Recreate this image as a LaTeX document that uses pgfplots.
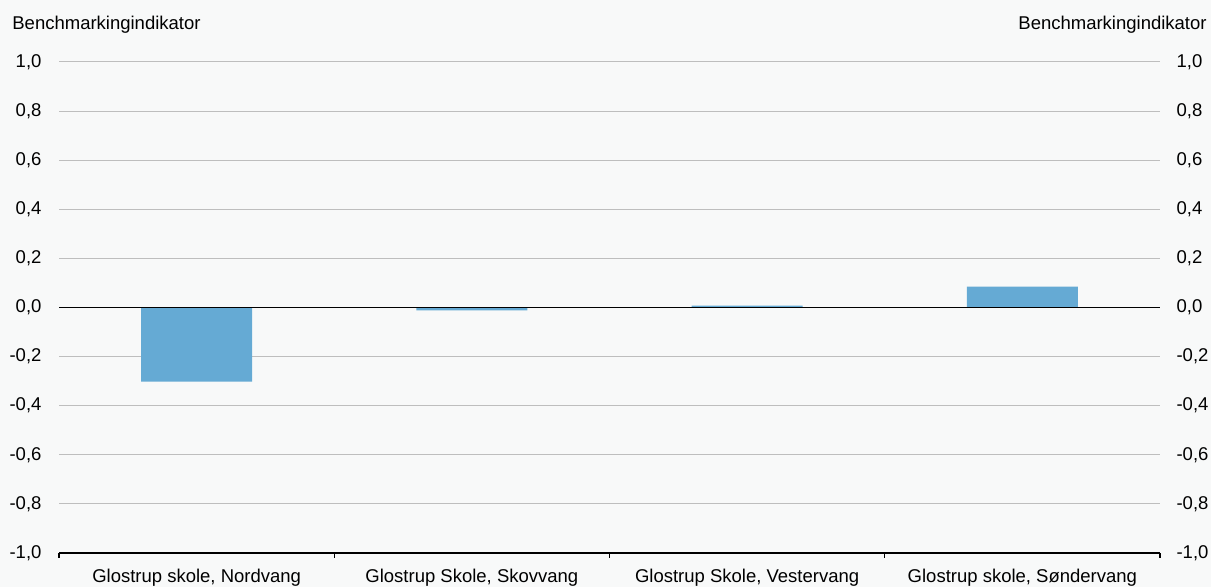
\documentclass[border=0pt]{standalone}
\usepackage{fontspec}
\setmainfont{Liberation Sans}
\usepackage{pgfplots}
\pgfplotsset{compat=1.18}
\definecolor{bg}{HTML}{F8F9F9}
\definecolor{barc}{HTML}{65AAD4}
\definecolor{gridc}{HTML}{BEBEBE}
\begin{document}
\fontsize{9.25pt}{11pt}\selectfont
\begin{tikzpicture}
\fill[bg] (0,0) rectangle (605.5pt,293.5pt);
\useasboundingbox (0,0) rectangle (605.5pt,293.5pt);
\pgfplotsset{
  common/.style={
    at={(29.5pt,17pt)}, anchor=south west,
    scale only axis, width=550.5pt, height=245.5pt,
    xmin=-0.5, xmax=3.5, ymin=-1, ymax=1,
    ytick={-1,-0.8,-0.6,-0.4,-0.2,0,0.2,0.4,0.6,0.8,1},
    /pgf/number format/assume math mode=true,
    /pgf/number format/fixed,
    /pgf/number format/fixed zerofill,
    /pgf/number format/precision=1,
    /pgf/number format/use comma,
    major tick length=0pt,
    tick label style={font=\fontsize{9.25pt}{11pt}\selectfont, text=black},
  }
}
\begin{axis}[common,
  axis x line*=bottom, axis y line*=left,
  y axis line style={draw=none},
  x axis line style={black, line width=0.6pt},
  xtick={0,1,2,3},
  xticklabels={{Glostrup skole, Nordvang},{Glostrup Skole, Skovvang},{Glostrup Skole, Vestervang},{Glostrup skole, Søndervang}},
  minor xtick={-0.5,0.5,1.5,2.5,3.5},
  minor tick length=2.5pt, tick align=outside,
  minor tick style={black, line width=0.6pt},
  ymajorgrids, major grid style={gridc, line width=0.5pt},
  yticklabel style={xshift=-5.5pt},
  xticklabel style={yshift=-5pt},
  ]
\addplot[ybar, bar width=0.403, fill=barc, draw=none] coordinates {(0,-0.302) (1,-0.012) (2,0.008) (3,0.085)};
\draw[black, line width=0.9pt] (axis cs:-0.5,0) -- (axis cs:3.5,0);
\end{axis}
\begin{axis}[common,
  axis y line*=right, axis x line=none,
  y axis line style={draw=none},
  yticklabel style={xshift=5pt},
  ]
\end{axis}
\node[anchor=west, inner sep=0pt] at (6pt,281pt) {Benchmarkingindikator};
\node[anchor=east, inner sep=0pt] at (603.5pt,281pt) {Benchmarkingindikator};
\end{tikzpicture}
\end{document}
